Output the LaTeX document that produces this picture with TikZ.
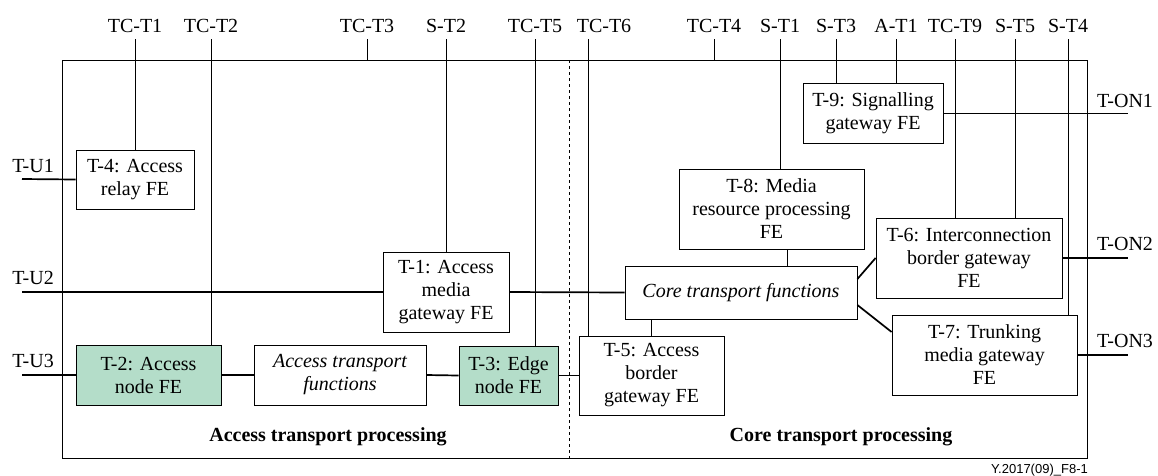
\documentclass[tikz,border=0pt]{standalone}
\usepackage{fontspec}
\setmainfont{Liberation Serif}
\newfontfamily\footfont{Liberation Sans}
\usetikzlibrary{positioning}
\definecolor{fegreen}{RGB}{180,221,201}

\begin{document}
\begin{tikzpicture}[x=1pt, y=-1pt,
    fe/.style={rectangle, draw, line width=0.8pt, align=center, inner sep=1pt, font=\fontsize{20}{23}\selectfont},
    fenode/.style={fe, fill=fegreen},
    term/.style={inner sep=0pt, text depth=0pt, anchor=base, font=\fontsize{20}{23}\selectfont},
    toplbl/.style={term, outer sep=7pt},
    frame/.style={rectangle, draw, line width=0.8pt, inner sep=0pt},
    link/.style={line width=1.7pt},
    ref/.style={line width=0.8pt}
]
    \useasboundingbox (0,0) rectangle (1158,475);

    % Frame and split
    \node[frame, minimum width=1025pt, minimum height=398pt] (frame) at (574.5,259) {};
    \coordinate (split) at (569,60);
    \draw[ref, dashed] (split) -- (split |- frame.south);

    % Nodes
    \node[fe, minimum width=118pt, minimum height=59pt] (t4) at (135,179.5) {T-4: Access\\relay FE};
    \node[fenode, minimum width=145pt, minimum height=60pt] (t2) at (148.5,375) {T-2: Access\\node FE};
    \node[fe, minimum width=172pt, minimum height=60pt] (atf) at (340,375) {\itshape Access transport\\\itshape functions};
    \node[fenode, minimum width=99pt, minimum height=59pt] (t3) at (508.5,375.5) {T-3: Edge\\node FE};
    \node[fe, minimum width=145pt, minimum height=79pt] (t5) at (651.5,375.5) {T-5: Access\\border\\gateway FE};
    \node[fe, minimum width=126pt, minimum height=80pt] (t1) at (446,292) {T-1: Access\\media\\gateway FE};
    \node[fe, minimum width=232pt, minimum height=53pt] (ctf) at (741,292.5) {\itshape Core transport functions};
    \node[fe, minimum width=185pt, minimum height=80pt] (t8) at (771.5,209) {T-8: Media\\resource processing\\FE};
    \node[fe, minimum width=140pt, minimum height=60pt] (t9) at (873,113) {T-9: Signalling\\gateway FE};
    \node[fe, minimum width=186pt, minimum height=80pt] (t6) at (969,258) {T-6: Interconnection\\border gateway\\FE};
    \node[fe, minimum width=185pt, minimum height=80pt] (t7) at (984.5,355) {T-7: Trunking\\media gateway\\FE};

    % Reference points on top
    \node[toplbl] (tct1) at (135,32) {TC-T1};
    \node[toplbl] (tct2) at (211,32) {TC-T2};
    \node[toplbl] (tct3) at (367,32) {TC-T3};
    \node[toplbl] (st2) at (446,32) {S-T2};
    \node[toplbl] (tct5) at (535,32) {TC-T5};
    \node[toplbl] (tct6) at (604,32) {TC-T6};
    \node[toplbl] (tct4) at (714,32) {TC-T4};
    \node[toplbl] (st1) at (780,32) {S-T1};
    \node[toplbl] (st3) at (836,32) {S-T3};
    \node[toplbl] (at1) at (896,32) {A-T1};
    \node[toplbl] (tct9) at (955,32) {TC-T9};
    \node[toplbl] (st5) at (1015,32) {S-T5};
    \node[toplbl] (st4) at (1068,32) {S-T4};

    % Reference points on the sides
    \coordinate (tu1) at (22,179);
    \coordinate (tu2) at (22,292);
    \coordinate (tu3) at (22,375);
    \coordinate (ton1) at (1128,113);
    \coordinate (ton2) at (1128,258);
    \coordinate (ton3) at (1128,355);
    \node[term] (tu1lbl) at (33,172) {T-U1};
    \node[term] (tu2lbl) at (33,284) {T-U2};
    \node[term] (tu3lbl) at (33,367) {T-U3};
    \node[term] (ton1lbl) at (1125,107) {T-ON1};
    \node[term] (ton2lbl) at (1125,250) {T-ON2};
    \node[term] (ton3lbl) at (1125,347) {T-ON3};

    % Captions
    \node[term, font=\fontsize{20}{23}\selectfont\bfseries] (atp) at (328,441) {Access transport processing};
    \node[term, font=\fontsize{20}{23}\selectfont\bfseries] (ctp) at (841,441) {Core transport processing};
    \node[term, anchor=base east, font=\footfont\fontsize{13}{15}\selectfont] (figid) at (1088,473) {Y.2017(09)\_F8-1};

    % Reference lines
    \draw[ref] (tct1.south) -- (t4.north);
    \draw[ref] (tct2.south) -- (tct2.south |- t2.north);
    \draw[ref] (tct3.south) -- (tct3.south |- frame.north);
    \draw[ref] (st2.south) -- (t1.north);
    \draw[ref] (tct5.south) -- (tct5.south |- t3.north);
    \draw[ref] ([xshift=-16pt]tct6.south) -- ([xshift=-16pt]tct6.south |- t5.north);
    \draw[ref] (tct4.south) -- (tct4.south |- frame.north);
    \draw[ref] (st1.south) -- (st1.south |- t8.north);
    \draw[ref] (st3.south) -- (st3.south |- t9.north);
    \draw[ref] (at1.south) -- (at1.south |- t9.north);
    \draw[ref] (tct9.south) -- (tct9.south |- t6.north);
    \draw[ref] (st5.south) -- (st5.south |- t6.north);
    \draw[ref] (st4.south) -- (st4.south |- t7.north);
    \draw[ref] ([xshift=15.5pt]t8.south) -- ([xshift=15.5pt]t8.south |- ctf.north);
    \draw[ref] (t9.east) -- (ton1);

    % Transport links
    \draw[link] (tu1) -- (t4.west);
    \draw[link] (tu2) -- (t1.west);
    \draw[link] (t1.east) -- (ctf.west);
    \draw[link] (tu3) -- (t2.west);
    \draw[link] (t2.east) -- (atf.west);
    \draw[link] (atf.east) -- (t3.west);
    \draw[link] (t3.east) -- (t5.west);
    \draw[link] (t5.north) -- (t5.north |- ctf.south);
    \draw[link] ([yshift=13.5pt]ctf.east) -- (t6.west);
    \draw[link] ([yshift=-12.5pt]ctf.east) -- ([yshift=23pt]t7.west);
    \draw[link] (t6.east) -- (ton2);
    \draw[link] (t7.east) -- (ton3);
\end{tikzpicture}
\end{document}
